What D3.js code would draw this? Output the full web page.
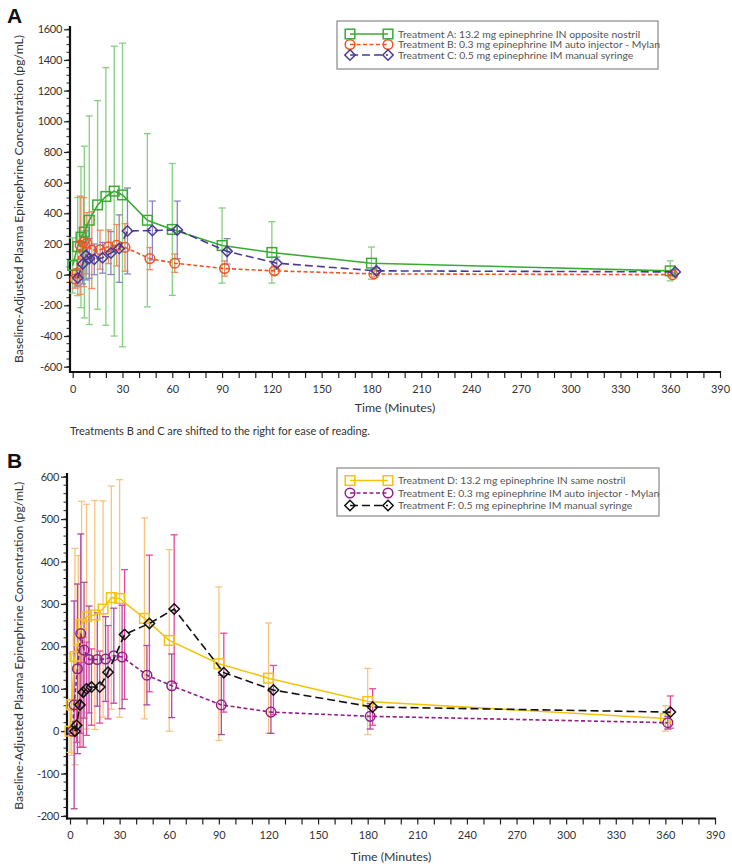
<!DOCTYPE html>
<html>
<head>
<meta charset="utf-8">
<script src="https://cdn.jsdelivr.net/npm/d3@7"></script>
<style>
  html, body { margin: 0; padding: 0; background: #fff; }
  svg { display: block; font-family: Lato, "Open Sans", sans-serif; }
</style>
</head>
<body>
<svg id="chart" width="732" height="867"></svg>
<script>
// ---------------- DATA ----------------
const times = [0, 1, 3, 5, 7, 10, 15, 20, 25, 30, 45, 60, 90, 120, 180, 360];

// Panel A
const meanA = [60, null, 183, 245, 278, 355, 455, 510, 545, 520, 355, 295, 190, 145, 75, 25];
const sdA   = [180, null, 320, 460, 560, 680, 680, 840, 945, 990, 565, 430, 245, 200, 105, 65];
const meanB = [-28, 10, 192, 212, 205, 160, 163, 182, 192, 178, 105, 75, 40, 25, 5, 0];
const sdB   = [60, 90, 320, 290, 200, 250, 127, 110, 135, 155, 72, 60, 50, 25, 20, 15];
const meanC = [-22, null, 70, 126, 106, 100, 110, 141, 170, 285, 288, 292, 152, 75, 25, 18];
const sdC   = [50, null, 130, 160, 130, 100, 100, 140, 220, 280, 192, 188, 83, 40, 20, 15];

// Panel B
const meanD = [0, 63, 176, 214, 252, 270, 274, 288, 315, 313, 266, 214, 159, 125, 70, 30];
const sdD   = [50, 120, 255, 200, 290, 265, 270, 255, 263, 280, 237, 214, 181, 130, 78, 30];
const meanE = [0, 62, 147, 230, 191, 169, 169, 170, 178, 175, 132, 107, 62, 45, 35, 20];
const sdE   = [5, 245, 200, 235, 160, 126, 110, 100, 112, 122, 70, 75, 70, 50, 30, 15];
const meanF = [0, 14, 62, 92, 100, 104, 104, 139, null, 228, 254, 288, 138, 97, 57, 45];
const sdF   = [5, 40, 100, 130, 110, 90, 85, 110, null, 153, 161, 175, 93, 58, 43, 38];

// Display shift (minutes) for the IM treatments
const shiftMid = 1.5, shiftLate = 3;

const xTicks = d3.range(0, 391, 30);
const xMinor = d3.range(0, 391, 10);
const yTicksA = d3.range(-600, 1601, 200);
const yMinorA = d3.range(-600, 1601, 50);
const yTicksB = d3.range(-200, 601, 100);
const yMinorB = d3.range(-200, 601, 20);

const labelsA = [
  "Treatment A: 13.2 mg epinephrine IN opposite nostril",
  "Treatment B: 0.3 mg epinephrine IM auto injector - Mylan",
  "Treatment C: 0.5 mg epinephrine IM manual syringe"
];
const labelsB = [
  "Treatment D: 13.2 mg epinephrine IN same nostril",
  "Treatment E: 0.3 mg epinephrine IM auto injector - Mylan",
  "Treatment F: 0.5 mg epinephrine IM manual syringe"
];
const yTitle = "Baseline-Adjusted Plasma Epinephrine Concentration (pg/mL)";
const xTitle = "Time (Minutes)";
const note = "Treatments B and C are shifted to the right for ease of reading.";

// ---------------- DRAW ----------------
const svg = d3.select("#chart");
const fmt = v => String(v);

function mk(mean, sd, shift) {
  return times.map((t, i) => ({ t: t + shift, m: mean[i], s: sd[i] })).filter(d => d.m != null);
}

function marker(g, shape, color, cx, cy) {
  if (shape === "square") {
    g.append("rect").attr("x", cx - 4.8).attr("y", cy - 4.8).attr("width", 9.6).attr("height", 9.6)
      .attr("fill", "none").attr("stroke", color).attr("stroke-width", 1.5);
  } else if (shape === "circle") {
    g.append("circle").attr("cx", cx).attr("cy", cy).attr("r", 4.8)
      .attr("fill", "none").attr("stroke", color).attr("stroke-width", 1.5);
  } else {
    g.append("path").attr("d", `M${cx - 5.2},${cy}L${cx},${cy - 5.2}L${cx + 5.2},${cy}L${cx},${cy + 5.2}Z`)
      .attr("fill", "none").attr("stroke", color).attr("stroke-width", 1.5);
  }
}

function panel(cfg) {
  const g = svg.append("g");
  const x = d3.scaleLinear().domain([0, 390]).range(cfg.xr);
  const y = d3.scaleLinear().domain(cfg.yd).range(cfg.yr);

  // y minor ticks
  g.append("g").selectAll("line").data(cfg.yMinor).join("line")
    .attr("x1", cfg.axX - 3.5).attr("x2", cfg.axX).attr("y1", d => y(d)).attr("y2", d => y(d))
    .attr("stroke", "#222").attr("stroke-width", 1);
  // y axis (major)
  const ya = g.append("g").attr("transform", `translate(${cfg.axX},0)`)
    .call(d3.axisLeft(y).tickValues(cfg.yTicks).tickFormat(fmt).tickSize(6).tickPadding(2));
  ya.select(".domain").remove();
  ya.selectAll(".tick line").attr("stroke", "#222").attr("stroke-width", 1.2);
  ya.selectAll(".tick text").attr("font-size", 11).attr("fill", "#333")
    .attr("font-family", "Lato, sans-serif").attr("letter-spacing", -0.3);

  // x minor/major ticks
  const xa = g.append("g").attr("transform", `translate(0,${cfg.axY})`)
    .call(d3.axisBottom(x).tickValues(xMinor).tickFormat(d => d % 30 === 0 ? fmt(d) : "").tickSize(6).tickPadding(7));
  xa.select(".domain").remove();
  xa.selectAll(".tick line").attr("stroke", "#222").attr("stroke-width", 1.2);
  xa.selectAll(".tick text").attr("font-size", 11).attr("fill", "#333")
    .attr("font-family", "Lato, sans-serif");

  // axis lines
  g.append("line").attr("x1", cfg.axX).attr("x2", cfg.axX).attr("y1", cfg.yTop).attr("y2", cfg.axY + 1)
    .attr("stroke", "#111").attr("stroke-width", 2.2);
  g.append("line").attr("x1", cfg.axX - 1).attr("x2", x(390) + 1).attr("y1", cfg.axY).attr("y2", cfg.axY)
    .attr("stroke", "#111").attr("stroke-width", 2.2);

  // titles
  g.append("text").attr("x", (cfg.axX + x(390)) / 2).attr("y", cfg.xTitleY).attr("text-anchor", "middle")
    .attr("font-size", 12.3).attr("fill", "#333").text(xTitle);
  g.append("text").attr("transform", `translate(${cfg.yTitleX},${(cfg.yTop + cfg.axY) / 2}) rotate(-90)`)
    .attr("text-anchor", "middle").attr("font-size", 12.2).attr("fill", "#333").text(yTitle);
  g.append("text").attr("x", 7).attr("y", cfg.letterY).attr("font-size", 21).attr("font-weight", 700)
    .attr("font-family", "Liberation Sans, Arial, sans-serif").attr("fill", "#111").text(cfg.letter);

  // series: error bars first
  cfg.series.forEach(s => {
    const eg = g.append("g");
    s.data.forEach(d => {
      const y1 = y(d.m + d.s), y2 = y(d.m - d.s), cx = x(d.t);
      eg.append("line").attr("x1", cx).attr("x2", cx).attr("y1", y1).attr("y2", y2)
        .attr("stroke", s.err).attr("stroke-width", 1.3);
      [y1, y2].forEach(yy => eg.append("line").attr("x1", cx - 3.5).attr("x2", cx + 3.5)
        .attr("y1", yy).attr("y2", yy).attr("stroke", s.err).attr("stroke-width", 1.3));
    });
  });
  cfg.series.forEach(s => {
    const sg = g.append("g");
    sg.append("path").datum(s.data)
      .attr("d", d3.line().x(d => x(d.t)).y(d => y(d.m)))
      .attr("fill", "none").attr("stroke", s.color).attr("stroke-width", 1.6)
      .attr("stroke-dasharray", s.dash);
    s.data.forEach(d => marker(sg, s.shape, s.color, x(d.t), y(d.m)));
  });

  // legend
  const L = cfg.legend;
  g.append("rect").attr("x", L.x).attr("y", L.y).attr("width", L.w).attr("height", L.h)
    .attr("fill", "#fff").attr("stroke", "#888").attr("stroke-width", 1.2);
  cfg.series.forEach((s, i) => {
    const yy = L.rows[i];
    const lg = g.append("g");
    lg.append("line").attr("x1", L.x + 13).attr("x2", L.x + 51).attr("y1", yy).attr("y2", yy)
      .attr("stroke", s.color).attr("stroke-width", 1.6).attr("stroke-dasharray", s.dash);
    marker(lg, s.shape, s.color, L.x + 13, yy);
    marker(lg, s.shape, s.color, L.x + 51, yy);
    lg.append("text").attr("x", L.x + 61).attr("y", yy + 3.8).attr("font-size", 10.4)
      .attr("fill", "#555").text(s.label);
  });
}

panel({
  letter: "A", letterY: 23,
  xr: [72.7, 720], yd: [-600, 1600], yr: [366.7, 29.3],
  axX: 70, axY: 372, yTop: 26, xTitleY: 412, yTitleX: 23,
  yTicks: yTicksA, yMinor: yMinorA,
  legend: { x: 337, y: 21, w: 321, h: 48, rows: [34, 44.5, 55] },
  series: [
    { label: labelsA[0], data: mk(meanA, sdA, 0), color: "#3BAA35", err: "#86CF80", shape: "square", dash: null },
    { label: labelsA[1], data: mk(meanB, sdB, shiftMid), color: "#EE5522", err: "#F48A5E", shape: "circle", dash: "4,2.5" },
    { label: labelsA[2], data: mk(meanC, sdC, shiftLate), color: "#4A3A94", err: "#8D84C4", shape: "diamond", dash: "8,4" }
  ]
});

svg.append("text").attr("x", 70).attr("y", 435).attr("font-size", 11).attr("fill", "#333").text(note);

panel({
  letter: "B", letterY: 468,
  xr: [70, 715], yd: [-200, 600], yr: [816, 476.7],
  axX: 67, axY: 818.5, yTop: 473, xTitleY: 861, yTitleX: 23,
  yTicks: yTicksB, yMinor: yMinorB,
  legend: { x: 337, y: 468, w: 322, h: 48, rows: [480.5, 493, 505.5] },
  series: [
    { label: labelsB[0], data: mk(meanD, sdD, 0), color: "#F2C40C", err: "#F9C37E", shape: "square", dash: null },
    { label: labelsB[1], data: mk(meanE, sdE, shiftMid), color: "#8E1F8C", err: "#A94BA6", shape: "circle", dash: "4,2.5" },
    { label: labelsB[2], data: mk(meanF, sdF, shiftLate), color: "#111111", err: "#E8489A", shape: "diamond", dash: "8,4" }
  ]
});
</script>
</body>
</html>
